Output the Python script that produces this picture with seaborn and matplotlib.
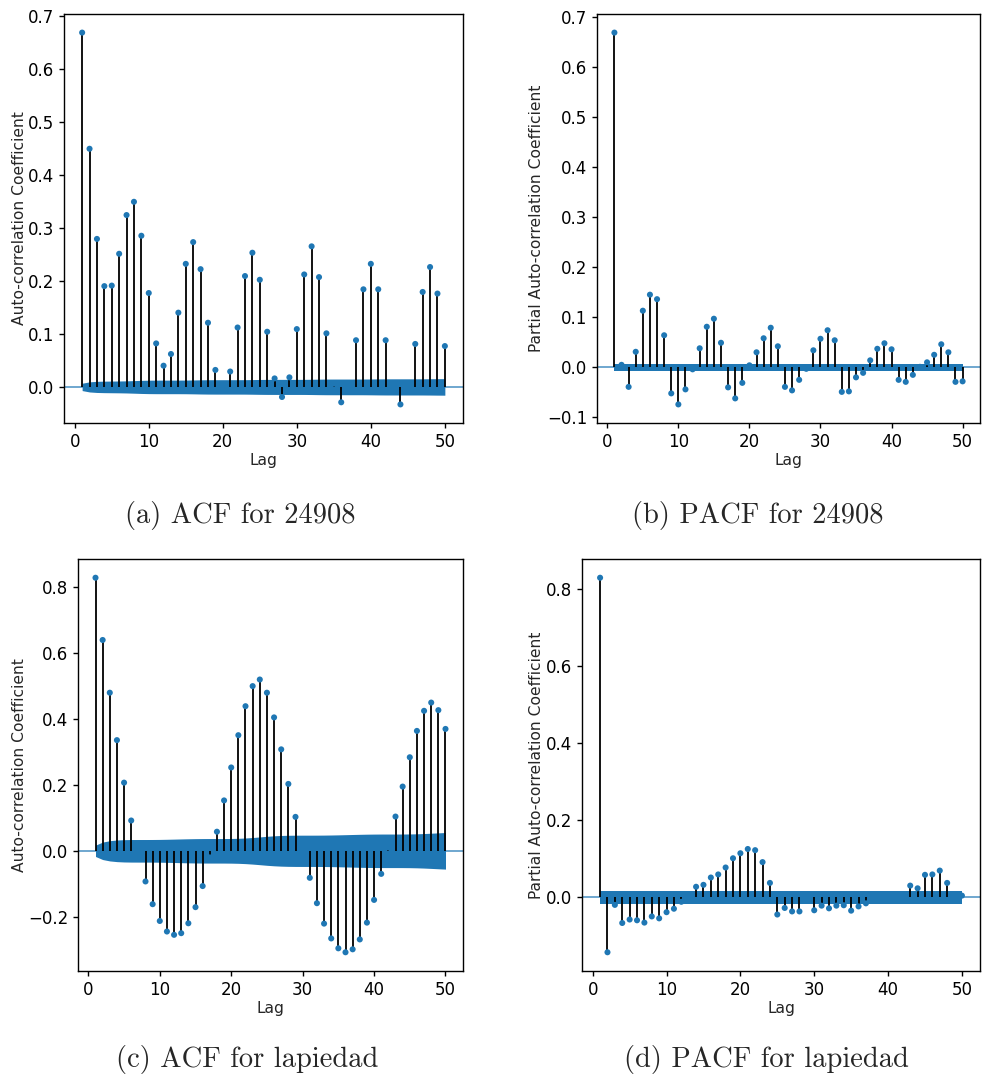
import numpy as np
import matplotlib
matplotlib.use("Agg")
import matplotlib.pyplot as plt
import seaborn as sns

# ---------------- data ----------------
lags = list(range(1, 51))

acf_24908 = [0.668, 0.449, 0.279, 0.190, 0.191, 0.251, 0.324, 0.349, 0.285, 0.177,
             0.082, 0.040, 0.062, 0.140, 0.232, 0.273, 0.222, 0.121, 0.032, 0.003,
             0.029, 0.112, 0.209, 0.253, 0.202, 0.104, 0.016, -0.019, 0.018, 0.109,
             0.212, 0.265, 0.207, 0.101, 0.006, -0.029, -0.002, 0.088, 0.184, 0.232,
             0.184, 0.088, 0.002, -0.033, -0.003, 0.081, 0.179, 0.226, 0.176, 0.077]

pacf_24908 = [0.668, 0.005, -0.039, 0.031, 0.113, 0.145, 0.136, 0.064, -0.052, -0.074,
              -0.044, -0.004, 0.038, 0.081, 0.097, 0.049, -0.040, -0.062, -0.031, 0.004,
              0.030, 0.058, 0.079, 0.042, -0.039, -0.046, -0.025, -0.003, 0.034, 0.057,
              0.074, 0.054, -0.049, -0.048, -0.020, -0.011, 0.014, 0.037, 0.048, 0.036,
              -0.025, -0.029, -0.015, 0.001, 0.010, 0.025, 0.046, 0.030, -0.029, -0.028]

acf_lapiedad = [0.829, 0.640, 0.480, 0.336, 0.207, 0.092, 0.003, -0.093, -0.162, -0.213,
                -0.245, -0.255, -0.250, -0.220, -0.171, -0.107, -0.020, 0.058, 0.153, 0.253,
                0.351, 0.439, 0.500, 0.520, 0.480, 0.405, 0.308, 0.203, 0.103, -0.004,
                -0.082, -0.159, -0.221, -0.266, -0.296, -0.308, -0.299, -0.269, -0.218, -0.149,
                -0.070, 0.010, 0.104, 0.195, 0.284, 0.364, 0.425, 0.450, 0.427, 0.370]

pacf_lapiedad = [0.829, -0.143, -0.020, -0.067, -0.058, -0.060, -0.066, -0.050, -0.055, -0.039,
                 -0.030, -0.012, -0.003, 0.027, 0.032, 0.051, 0.059, 0.077, 0.101, 0.114,
                 0.125, 0.122, 0.091, 0.037, -0.045, -0.028, -0.037, -0.037, -0.002, -0.034,
                 -0.022, -0.029, -0.022, -0.021, -0.035, -0.024, -0.016, -0.003, 0.002, 0.003,
                 0.001, 0.002, 0.030, 0.023, 0.058, 0.059, 0.069, 0.037, 0.001, 0.004]

nobs_24908 = 80000
nobs_lapiedad = 13000

captions = ["(a) ACF for 24908", "(b) PACF for 24908",
            "(c) ACF for lapiedad", "(d) PACF for lapiedad"]
ylabels = ["Auto-correlation Coefficient", "Partial Auto-correlation Coefficient",
           "Auto-correlation Coefficient", "Partial Auto-correlation Coefficient"]
xlabel = "Lag"


def acf_band(vals, nobs):
    r = np.asarray(vals, dtype=float)
    var = np.empty_like(r)
    var[0] = 1.0 / nobs
    var[1:] = (1.0 + 2.0 * np.cumsum(r[:-1] ** 2)) / nobs
    return 1.96 * np.sqrt(var)


def pacf_band(vals, nobs):
    return np.full(len(vals), 1.96 / np.sqrt(nobs))


# ---------------- style ----------------
sns.set_style("ticks")
plt.rcParams["font.family"] = ["DejaVu Sans"]
plt.rcParams["axes.edgecolor"] = "black"
plt.rcParams["axes.linewidth"] = 1.0
plt.rcParams["xtick.color"] = "black"
plt.rcParams["ytick.color"] = "black"
plt.rcParams["xtick.major.size"] = 3.5
plt.rcParams["ytick.major.size"] = 3.5

W, H = 982, 1081
fig = plt.figure(figsize=(W / 100, H / 100), dpi=100)


def px_axes(left, right, top, bottom):
    return fig.add_axes([left / W, 1 - bottom / H, (right - left) / W, (bottom - top) / H])


panels = [
    (px_axes(64, 463, 14, 423), acf_24908, acf_band(acf_24908, nobs_24908)),
    (px_axes(597, 980, 14, 423), pacf_24908, pacf_band(pacf_24908, nobs_24908)),
    (px_axes(78, 463, 559, 971), acf_lapiedad, acf_band(acf_lapiedad, nobs_lapiedad)),
    (px_axes(582, 980, 559, 971), pacf_lapiedad, pacf_band(pacf_lapiedad, nobs_lapiedad)),
]

C0 = "#1f77b4"
for i, (ax, vals, band) in enumerate(panels):
    ax.fill_between(lags, -band, band, color=C0, linewidth=0, zorder=1)
    ax.axhline(0, color=C0, linewidth=1.2, alpha=0.75, zorder=1.5)
    ax.vlines(lags, 0, vals, colors="black", linewidth=1.3, zorder=2)
    sns.scatterplot(x=lags, y=vals, ax=ax, color=C0, s=19, edgecolor="none",
                    linewidth=0, zorder=3, legend=False)
    ax.set_xticks([0, 10, 20, 30, 40, 50])
    ax.tick_params(labelsize=12, width=1)
    ax.set_xlabel(xlabel, fontsize=11.2, labelpad=2)
    ax.set_ylabel(ylabels[i], fontsize=11.2)
    for s in ax.spines.values():
        s.set_visible(True)

# y-label positions (right edge of rotated label, in figure pixels)
label_x = [27, 544, 27, 544]
for i, (ax, _, _) in enumerate(panels):
    pos = ax.get_position()
    ax.yaxis.set_label_coords(label_x[i] / W, pos.y0 + pos.height / 2,
                              transform=fig.transFigure)

cap_pos = [(240, 515), (758, 515), (247, 1059), (766, 1059)]
for (cx, cy), txt in zip(cap_pos, captions):
    fig.text(cx / W, 1 - cy / H, txt, family="cmr10", fontsize=20.5,
             ha="center", va="center")

fig.savefig("out.png", dpi=100)
